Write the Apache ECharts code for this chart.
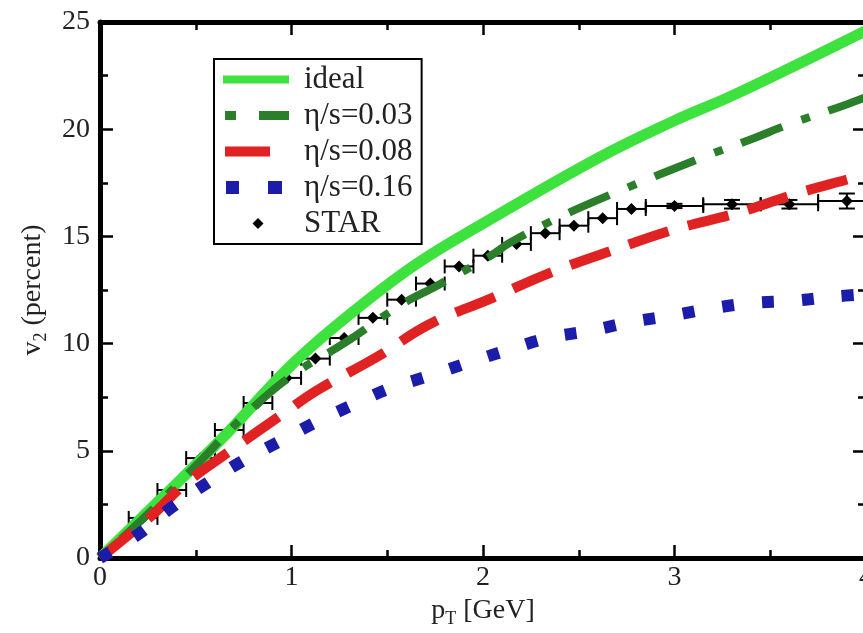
<!DOCTYPE html>
<html><head><meta charset="utf-8">
<script src="https://cdn.jsdelivr.net/npm/echarts@6/dist/echarts.min.js"></script>
<style>html,body{margin:0;padding:0;background:#fff;}#c{width:863px;height:633px;}</style>
</head><body><div id="c"></div>
<script>
const xTickLabels = ['0', '1', '2', '3', '4'];
const yTickLabels = ['0', '5', '10', '15', '20', '25'];
const seriesNames = ['ideal', 'η/s=0.03', 'η/s=0.08', 'η/s=0.16', 'STAR'];

const idealData = [[0,0],[0.3,2.6],[0.64,5.6],[1.0,9.0],[1.31,11.4],[1.65,13.7],[2.0,15.6],[2.61,18.7],[3.0,20.4],[3.31,21.6],[4.0,24.6]];
const eta003Data = [[0,0],[0.22,1.8],[0.5,4.3],[0.75,6.6],[1.0,8.5],[1.29,10.1],[1.57,11.8],[1.76,12.7],[2.04,14.1],[2.14,14.7],[2.4,15.9],[2.68,17.0],[3.15,18.7],[3.39,19.5],[3.62,20.3],[3.85,21.0],[4.0,21.5]];
const eta008Data = [[0,0],[0.26,1.9],[0.45,3.5],[0.68,5.0],[0.96,6.75],[1.13,7.8],[1.45,9.4],[1.72,10.9],[2.04,12.1],[2.35,13.3],[2.66,14.3],[2.99,15.3],[3.33,16.1],[3.64,17.0],[3.92,17.7],[4.0,17.9]];
const eta016Data = [[0,0],[0.21,1.17],[0.37,2.33],[0.56,3.5],[0.74,4.5],[0.93,5.4],[1.12,6.3],[1.31,7.1],[1.51,7.9],[1.72,8.5],[1.92,9.1],[2.13,9.7],[2.34,10.26],[2.56,10.6],[2.77,11.0],[2.98,11.3],[3.2,11.65],[3.41,11.9],[3.62,12.0],[3.84,12.2],[4.0,12.3]];

const starX = [0.225,0.375,0.525,0.675,0.825,0.975,1.125,1.275,1.425,1.575,1.725,1.875,2.025,2.175,2.325,2.475,2.625,2.775,3.0,3.3,3.6,3.9];
const starY = [1.87,3.17,4.66,5.97,7.23,8.4,9.3,10.26,11.2,12.05,12.8,13.6,14.1,14.65,15.15,15.5,15.85,16.28,16.42,16.5,16.5,16.65];
const starXErr = [0.075,0.075,0.075,0.075,0.075,0.075,0.075,0.075,0.075,0.075,0.075,0.075,0.075,0.075,0.075,0.075,0.075,0.075,0.15,0.15,0.15,0.15];
const starYErr = [0,0,0,0,0,0,0,0,0,0,0,0,0,0,0,0,0,0,0.1,0.2,0.2,0.35];

const FONT = 'Liberation Serif';
const starData = starX.map((x, i) => [x, starY[i], starXErr[i], starYErr[i]]);

function axisCommon(extra) {
  return Object.assign({
    type: 'value',
    axisLine: { show: true, onZero: false, lineStyle: { color: '#000', width: 5 } },
    axisTick: { show: true, inside: true, length: 13, lineStyle: { color: '#000', width: 2.5 } },
    minorTick: { show: true, splitNumber: 2, length: 8, lineStyle: { color: '#000', width: 2.5 } },
    splitLine: { show: false },
    minorSplitLine: { show: false }
  }, extra);
}

const chart = echarts.init(document.getElementById('c'), null, { renderer: 'canvas' });
chart.setOption({
  animation: false,
  backgroundColor: '#fff',
  grid: { left: 100, top: 22, width: 766, height: 536, containLabel: false, outerBoundsMode: 'none' },
  xAxis: [
    axisCommon({
      min: 0, max: 4, interval: 1, position: 'bottom',
      axisLabel: { margin: 6, fontFamily: FONT, fontSize: 28, color: '#222',
        formatter: v => xTickLabels[Math.round(v)] },
      name: '{b|p}{s|T}{b| [GeV]}', nameLocation: 'middle', nameGap: 36,
      nameTextStyle: { rich: {
        b: { fontFamily: FONT, fontSize: 28, color: '#222', lineHeight: 34 },
        s: { fontFamily: FONT, fontSize: 18, color: '#222', lineHeight: 18, verticalAlign: 'bottom' }
      } }
    }),
    axisCommon({ min: 0, max: 4, interval: 1, position: 'top', axisLabel: { show: false } })
  ],
  yAxis: [
    axisCommon({
      min: 0, max: 25, interval: 5, position: 'left',
      axisLabel: { margin: 10, fontFamily: FONT, fontSize: 28, color: '#222',
        formatter: v => yTickLabels[Math.round(v / 5)] },
      name: '{b|v}{s|2}{b| (percent)}', nameLocation: 'middle', nameGap: 50, nameRotate: 90,
      nameTextStyle: { rich: {
        b: { fontFamily: FONT, fontSize: 28, color: '#222', lineHeight: 34 },
        s: { fontFamily: FONT, fontSize: 18, color: '#222', lineHeight: 18, verticalAlign: 'bottom' }
      } }
    }),
    axisCommon({ min: 0, max: 25, interval: 5, position: 'right', axisLabel: { show: false } })
  ],
  legend: {
    orient: 'vertical', left: 214, top: 59, padding: [5, 9, 5, 9], itemGap: 5,
    itemWidth: 66, itemHeight: 13, borderColor: '#000', borderWidth: 2, backgroundColor: '#fff',
    selectedMode: false,
    itemStyle: { borderWidth: 0 },
    textStyle: { fontFamily: FONT, fontSize: 31, color: '#222', lineHeight: 30, padding: [0, 0, 0, 10] },
    data: [
      { name: seriesNames[0], icon: 'path://M0,0L0,0M0,2.5h66v8h-66zM66,13L66,13' },
      { name: seriesNames[1], icon: 'path://M0,0L0,0M2,2h11v9h-11zM36,2h30v9h-30zM66,13L66,13' },
      { name: seriesNames[2], icon: 'path://M0,0L0,0M2,1.5h45v10h-45zM66,13L66,13' },
      { name: seriesNames[3], icon: 'path://M0,0L0,0M3,0h13v13h-13zM45,0h14v13h-14zM66,13L66,13' },
      { name: seriesNames[4], icon: 'path://M0,0L0,0M35,1L40.5,6.5L35,12L29.5,6.5zM66,13L66,13' }
    ]
  },
  series: [
    { name: seriesNames[0], type: 'line', data: idealData, showSymbol: false, symbol: 'none',
      smooth: 0.4, itemStyle: { color: '#3ee23e' },
      lineStyle: { color: '#3ee23e', width: 11 } },
    { name: seriesNames[1], type: 'line', data: eta003Data, showSymbol: false, symbol: 'none',
      smooth: 0.4, itemStyle: { color: '#2b7f2b' },
      lineStyle: { color: '#2b7f2b', width: 8, type: [9, 20, 44, 20], cap: 'butt' } },
    { name: seriesNames[2], type: 'line', data: eta008Data, showSymbol: false, symbol: 'none',
      smooth: 0.4, itemStyle: { color: '#e02222' },
      lineStyle: { color: '#e02222', width: 10, type: [42, 20], cap: 'butt' } },
    { name: seriesNames[3], type: 'line', data: eta016Data, showSymbol: false, symbol: 'none',
      smooth: 0.4, itemStyle: { color: '#1c1caa' },
      lineStyle: { color: '#1c1caa', width: 12, type: [12, 28], cap: 'butt' } },
    { name: seriesNames[4], type: 'custom', data: starData, itemStyle: { color: '#000' },
      encode: { x: 0, y: 1 },
      renderItem: function (params, api) {
        const x = api.value(0), y = api.value(1), ex = api.value(2), ey = api.value(3);
        const c = api.coord([x, y]);
        const l = api.coord([x - ex, y]);
        const r = api.coord([x + ex, y]);
        const st = { stroke: '#000', lineWidth: 2 };
        const seg = (x1, y1, x2, y2) => ({ type: 'line', shape: { x1, y1, x2, y2 }, style: st });
        const children = [
          seg(l[0], l[1], r[0], r[1]),
          seg(l[0], l[1] - 7, l[0], l[1] + 7),
          seg(r[0], r[1] - 7, r[0], r[1] + 7)
        ];
        if (ey > 0) {
          const t = api.coord([x, y + ey]);
          const b = api.coord([x, y - ey]);
          children.push(seg(t[0], t[1], b[0], b[1]));
          children.push(seg(t[0] - 8, t[1], t[0] + 8, t[1]));
          children.push(seg(b[0] - 8, b[1], b[0] + 8, b[1]));
        }
        children.push({ type: 'polygon', shape: { points: [[c[0], c[1] - 6], [c[0] + 6, c[1]], [c[0], c[1] + 6], [c[0] - 6, c[1]]] }, style: { fill: '#000' } });
        return { type: 'group', children };
      } }
  ]
});
</script></body></html>
